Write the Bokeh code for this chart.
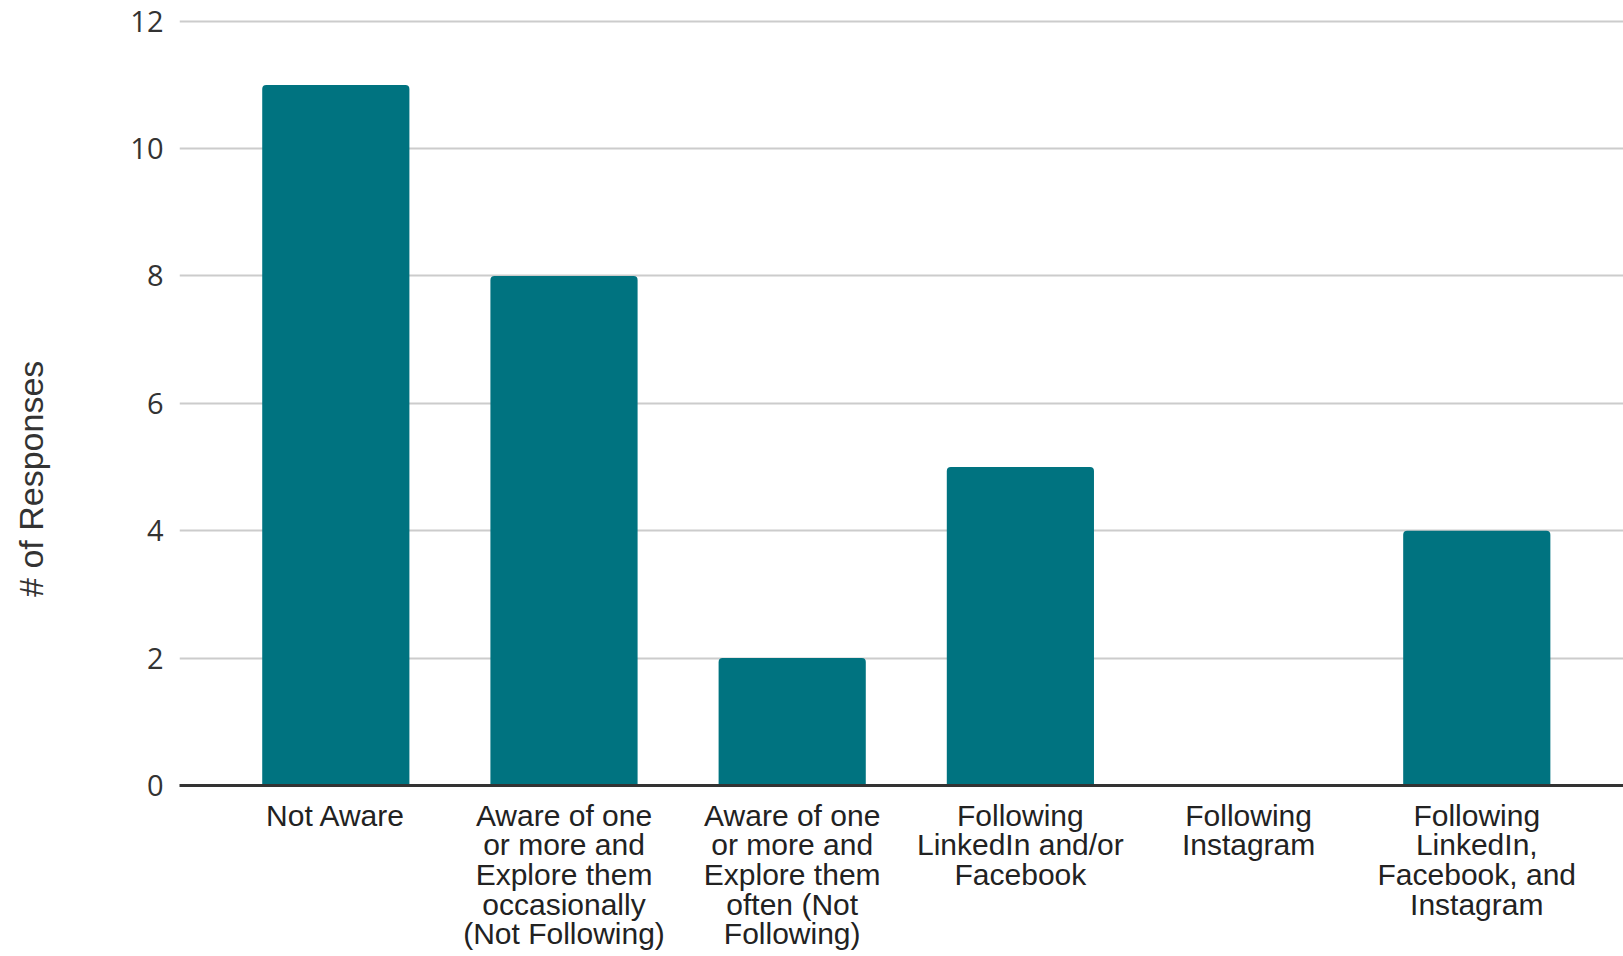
import math
from bokeh.plotting import figure
from bokeh.layouts import row
from bokeh.models import Range1d, FixedTicker, ColumnDataSource
from bokeh.core.properties import value
from bokeh.embed import file_html
from bokeh.resources import INLINE

categories = [
    "Not Aware",
    "Aware of one\nor more and\nExplore them\noccasionally\n(Not Following)",
    "Aware of one\nor more and\nExplore them\noften (Not\nFollowing)",
    "Following\nLinkedIn and/or\nFacebook",
    "Following\nInstagram",
    "Following\nLinkedIn,\nFacebook, and\nInstagram",
]
counts = [11, 8, 2, 5, 0, 4]
y_ticks = [0, 2, 4, 6, 8, 10, 12]
y_title = "# of Responses"

xs = list(range(len(categories)))
src = ColumnDataSource(dict(x=xs, count=counts))

W, H = 1623, 956
TITLE_W = 62
FRAME_L = 179
FRAME_B = 784.5
Y_END = 12.231
PX_PER_Y = (FRAME_B - 20.7) / 12

p = figure(width=W - TITLE_W, height=H, output_backend="svg", toolbar_location=None,
           x_range=Range1d(-0.685, 5.643), y_range=Range1d(0, Y_END),
           min_border_left=FRAME_L - TITLE_W, min_border_right=0, min_border_top=6,
           min_border_bottom=171)
p.outline_line_color = None
p.background_fill_color = "white"
p.border_fill_color = "white"

p.vbar(x="x", top="count", width=0.645, source=src, fill_color="#007380",
       line_color=None, border_radius=(4, 4, 0, 0))

# grid
p.xgrid.grid_line_color = None
p.ygrid.ticker = FixedTicker(ticks=y_ticks)
p.ygrid.grid_line_color = "#cccccc"
p.ygrid.grid_line_width = 2

# y axis
p.yaxis.ticker = FixedTicker(ticks=y_ticks)
p.yaxis.axis_line_color = None
p.yaxis.major_tick_line_color = None
p.yaxis.minor_tick_line_color = None
p.yaxis.major_tick_out = 0
p.yaxis.major_label_standoff = 16
p.yaxis.major_label_text_font = "Open Sans"
p.yaxis.major_label_text_font_size = "29px"
p.yaxis.major_label_text_color = "#333333"

# x axis
p.xaxis.ticker = FixedTicker(ticks=xs)
p.xaxis.major_label_overrides = {i: c for i, c in enumerate(categories)}
p.xaxis.axis_line_color = "#333333"
p.xaxis.axis_line_width = 3
p.xaxis.major_tick_line_color = None
p.xaxis.minor_tick_line_color = None
p.xaxis.major_tick_out = 0
p.xaxis.major_label_standoff = 13
p.xaxis.major_label_text_font = "Liberation Sans"
p.xaxis.major_label_text_font_size = "30px"
p.xaxis.major_label_text_color = "#222222"
p.xaxis.major_label_text_line_height = 0.9
p.xaxis.major_label_text_align = "center"

# narrow side panel holding the rotated y-axis title, centred on the chart height
# (its frame is aligned with the main plot's frame, so it shares the y scale)
side = figure(width=TITLE_W, height=H, output_backend="svg", toolbar_location=None,
              x_range=Range1d(0, TITLE_W), y_range=p.y_range,
              x_axis_location=None, y_axis_location=None,
              min_border_left=0, min_border_right=0, min_border_top=6,
              min_border_bottom=171)
side.outline_line_color = None
side.grid.grid_line_color = None
side.background_fill_color = "white"
side.border_fill_color = "white"
side.text(x=[30], y=[(FRAME_B - H / 2) / PX_PER_Y], text=[y_title],
          angle=math.pi / 2, text_align="center", text_baseline="middle",
          text_font=value("Liberation Sans"), text_font_size="34px",
          text_color="#333333")

layout = row(side, p, spacing=0)
open("out.html", "w").write(file_html(layout, INLINE))
